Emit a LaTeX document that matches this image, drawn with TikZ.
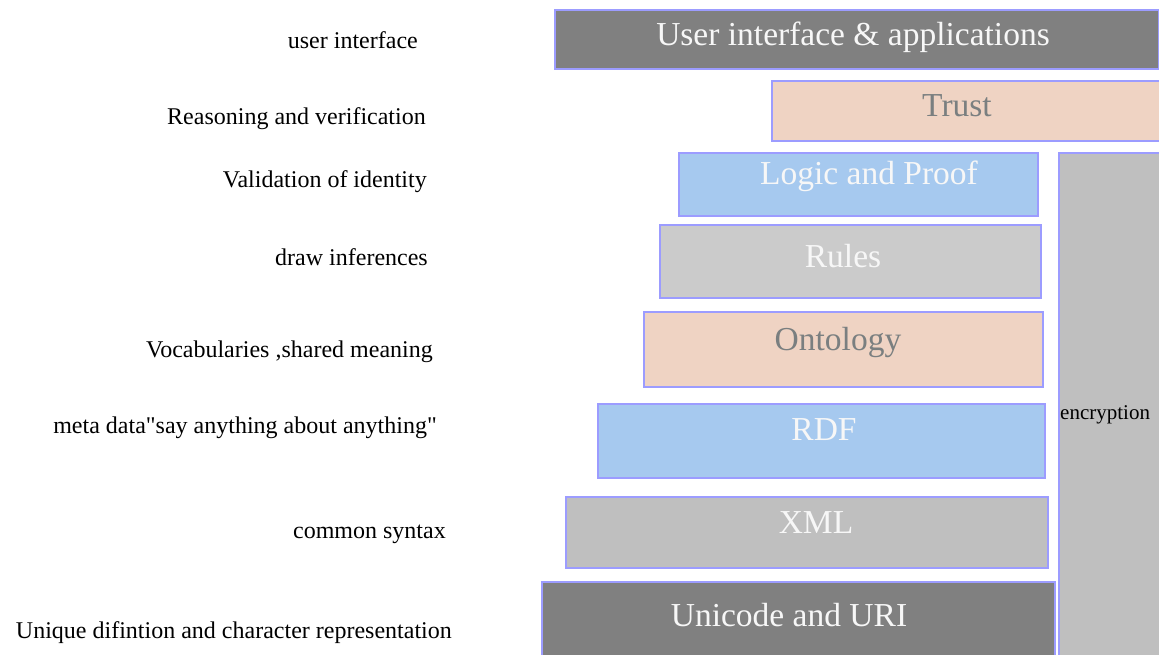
\documentclass[tikz,border=0pt]{standalone}
\usepackage{fontspec}
\setmainfont{Liberation Serif}[Ligatures=TeXOff]
\definecolor{dgray}{HTML}{808080}
\definecolor{peach}{HTML}{EFD3C3}
\definecolor{lblue}{HTML}{A6C9EF}
\definecolor{rgray}{HTML}{CBCBCB}
\definecolor{mgray}{HTML}{BFBFBF}
\definecolor{bord}{HTML}{9C9CFF}
\definecolor{ptext}{HTML}{7A7F80}
\definecolor{wtext}{HTML}{F7F7F7}
\begin{document}
\begin{tikzpicture}[x=1pt,y=-1pt,
  layer/.style={draw=bord, line width=1.6pt, rectangle, inner sep=0pt, anchor=north west},
  big/.style={font=\fontsize{33.5}{36}\selectfont, anchor=base, inner sep=0pt},
  lab/.style={font=\fontsize{24}{26}\selectfont, anchor=base east, inner sep=0pt, text=black}
]
\useasboundingbox (0,0) rectangle (1159,655);
% layer boxes
\node[layer, fill=dgray, minimum width=604pt, minimum height=59pt] (ui) at (554,9) {};
\node[layer, fill=peach, minimum width=392pt, minimum height=60pt] (trust) at (771,80) {};
\node[layer, fill=lblue, minimum width=359pt, minimum height=63pt] (logic) at (678,152) {};
\node[layer, fill=rgray, minimum width=381pt, minimum height=73pt] (rules) at (659,224) {};
\node[layer, fill=peach, minimum width=399pt, minimum height=75pt] (onto) at (643,311) {};
\node[layer, fill=lblue, minimum width=447pt, minimum height=74pt] (rdf) at (597,403) {};
\node[layer, fill=mgray, minimum width=482pt, minimum height=71pt] (xml) at (565,496) {};
\node[layer, fill=dgray, minimum width=513pt, minimum height=80pt] (uni) at (541,581) {};
\node[layer, fill=mgray, minimum width=106pt, minimum height=510pt] (enc) at (1058,152) {};
% box texts
\node[big, text=wtext] (tui) at (853,46) {User interface \& applications};
\node[big, text=ptext] (ttrust) at (957,117) {Trust};
\node[big, text=wtext] (tlogic) at (869,185) {Logic and Proof};
\node[big, text=wtext] (trules) at (843,267) {Rules};
\node[big, text=ptext] (tonto) at (838,350) {Ontology};
\node[big, text=wtext] (trdf) at (824,440) {RDF};
\node[big, text=wtext] (txml) at (816,533) {XML};
\node[big, text=wtext] (tuni) at (789,626) {Unicode and URI};
\node[font=\fontsize{21}{23}\selectfont, anchor=base west, inner sep=0pt, text=black] (tenc) at (1060,419) {encryption};
% left labels
\node[lab] (l1) at (418,49) {user interface};
\node[lab] (l2) at (426,125) {Reasoning and verification};
\node[lab] (l3) at (427,188) {Validation of identity};
\node[lab] (l4) at (428,265) {draw inferences};
\node[lab] (l5) at (433,357) {Vocabularies ,shared meaning};
\node[lab] (l6) at (437,433) {meta data"say anything about anything"};
\node[lab] (l7) at (446,538) {common syntax};
\node[lab] (l8) at (452,638) {Unique difintion and character representation};
\end{tikzpicture}
\end{document}
